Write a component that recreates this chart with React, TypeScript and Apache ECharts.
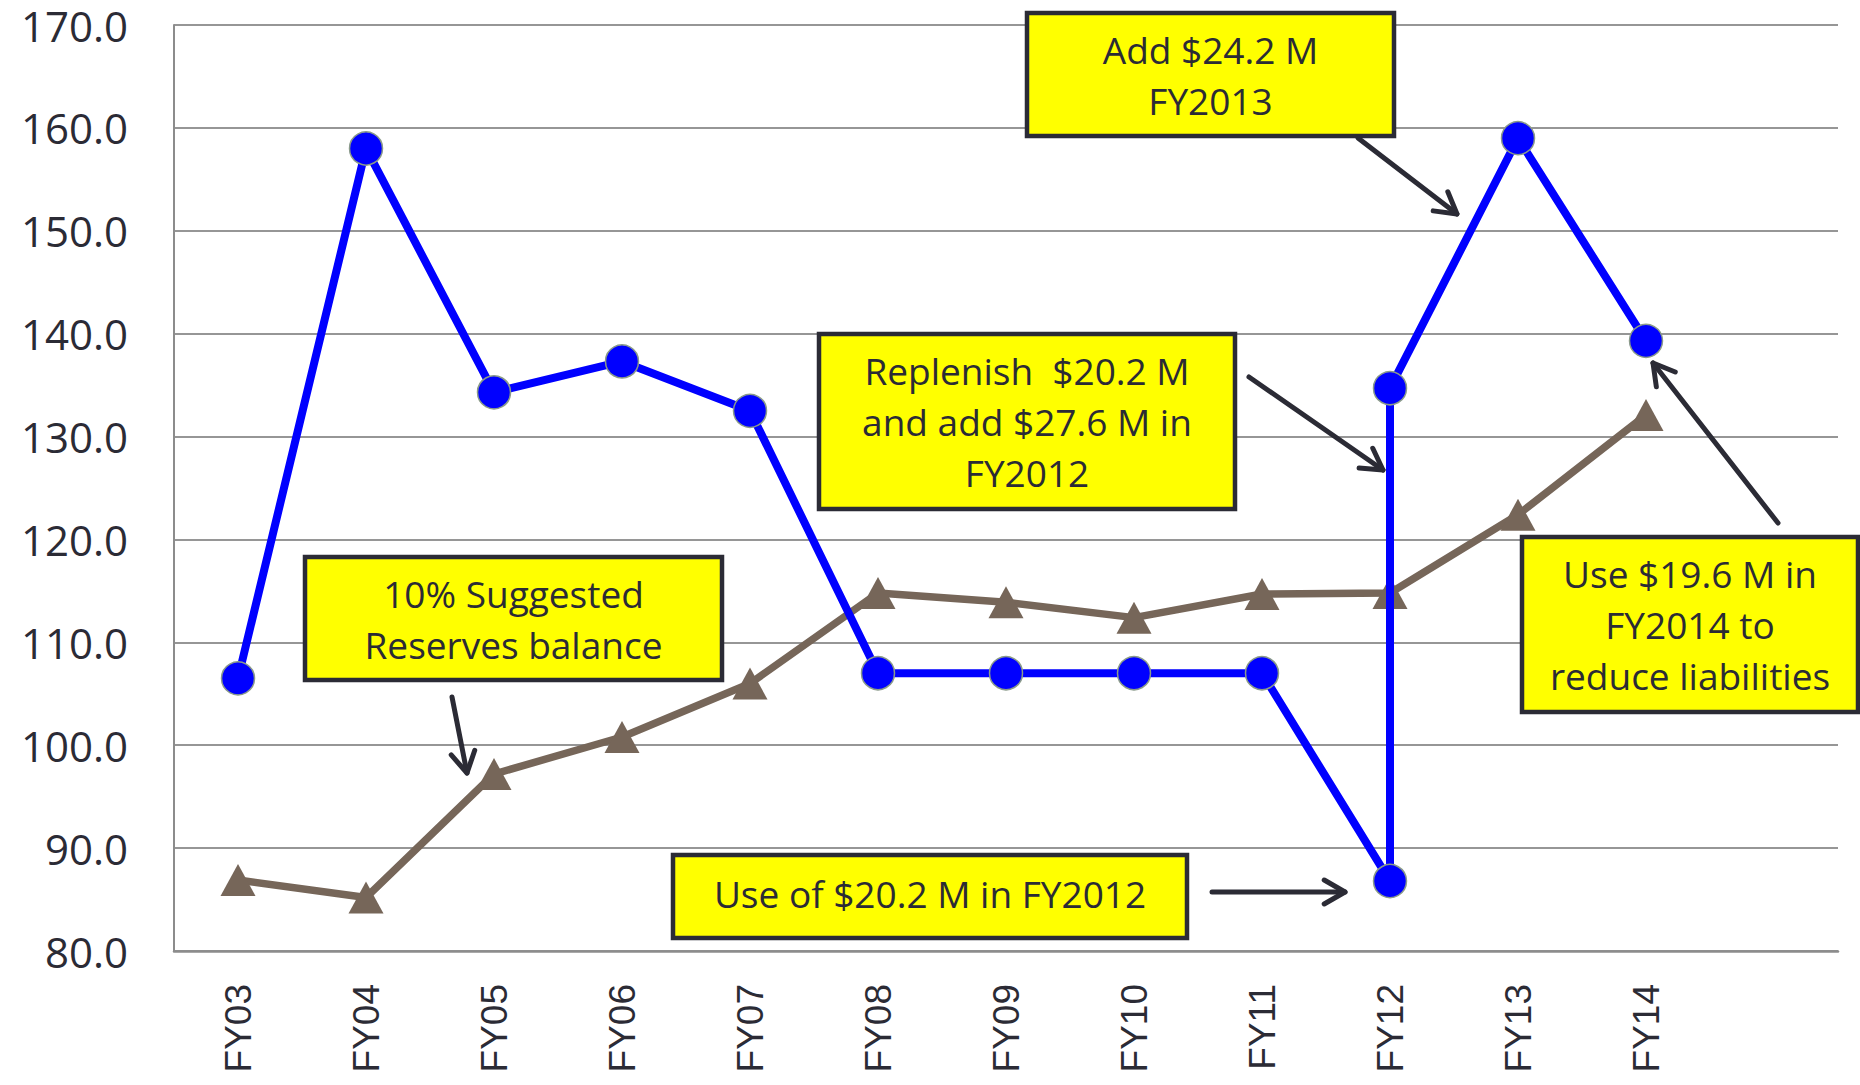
import React, { useEffect, useRef } from "react";
import * as echarts from "echarts";

const categories = ["FY03", "FY04", "FY05", "FY06", "FY07", "FY08", "FY09", "FY10", "FY11", "FY12", "FY13", "FY14", ""];
const reserveCats = ["FY03", "FY04", "FY05", "FY06", "FY07", "FY08", "FY09", "FY10", "FY11", "FY12", "FY12", "FY13", "FY14"];
const reserveValues = [106.5, 158.0, 134.3, 137.3, 132.5, 107.0, 107.0, 107.0, 107.0, 86.8, 134.7, 159.0, 139.3];
const suggestedCats = ["FY03", "FY04", "FY05", "FY06", "FY07", "FY08", "FY09", "FY10", "FY11", "FY12", "FY13", "FY14"];
const suggestedValues = [86.9, 85.2, 97.2, 100.8, 106.0, 114.8, 113.9, 112.4, 114.7, 114.8, 122.4, 132.1];
const yMin = 80;
const yMax = 170;
const yInterval = 10;

const boxTexts = [
  "Add $24.2 M\nFY2013",
  "Replenish  $20.2 M\nand add $27.6 M in\nFY2012",
  "10% Suggested\nReserves balance",
  "Use of $20.2 M in FY2012",
  "Use $19.6 M in\nFY2014 to\nreduce liabilities",
];

const INK = "#2b2b35";
const FONT = "'Open Sans', 'Noto Sans', sans-serif";

function box(x: number, y: number, w: number, h: number, text: string, ty?: number) {
  return [
    {
      type: "rect",
      z: 100,
      shape: { x, y, width: w, height: h },
      style: { fill: "#ffff00", stroke: INK, lineWidth: 4.5 },
    },
    {
      type: "text",
      z: 101,
      style: {
        text,
        x: x + w / 2,
        y: ty !== undefined ? ty : y + h / 2,
        textAlign: "center",
        textVerticalAlign: "middle",
        fontSize: 37,
        fontFamily: FONT,
        lineHeight: 51,
        fill: INK,
      },
    },
  ];
}

function arrow(x1: number, y1: number, x2: number, y2: number) {
  const ang = Math.atan2(y2 - y1, x2 - x1);
  const L = 24;
  const a = Math.PI / 6;
  const p1 = [x2 - L * Math.cos(ang - a), y2 - L * Math.sin(ang - a)];
  const p2 = [x2 - L * Math.cos(ang + a), y2 - L * Math.sin(ang + a)];
  return [
    {
      type: "line",
      z: 100,
      shape: { x1, y1, x2, y2 },
      style: { stroke: INK, lineWidth: 5, lineCap: "round" },
    },
    {
      type: "polyline",
      z: 100,
      shape: { points: [p1, [x2, y2], p2] },
      style: { stroke: INK, lineWidth: 5, lineCap: "round", lineJoin: "round", fill: "none" },
    },
  ];
}

export default function App() {
  const ref = useRef<HTMLDivElement>(null);
  useEffect(() => {
    document.body.style.margin = "0";
    const chart = echarts.init(ref.current!, null, { renderer: "svg" });
    const graphics = [
      ...box(1027, 13, 367, 123, boxTexts[0]),
      ...box(819, 334, 416, 175, boxTexts[1]),
      ...box(305, 557, 417, 123, boxTexts[2]),
      ...box(673, 855, 514, 83, boxTexts[3], 893),
      ...box(1522, 537, 336, 175, boxTexts[4]),
      ...arrow(1358, 138, 1457, 214),
      ...arrow(1249, 377, 1383, 470),
      ...arrow(1778, 523, 1653, 363),
      ...arrow(452, 697, 467, 773),
      ...arrow(1212, 892, 1345, 892),
    ];
    chart.setOption({
      animation: false,
      backgroundColor: "#ffffff",
      grid: { left: 174, right: 22, top: 25, bottom: 134, containLabel: false },
      xAxis: {
        type: "category",
        data: categories,
        boundaryGap: true,
        axisLine: { show: true, lineStyle: { color: "#8c8c8c", width: 2.5 } },
        axisTick: { show: false },
        axisLabel: {
          rotate: 90,
          margin: 33,
          fontSize: 37,
          fontFamily: "'Liberation Sans', Arial, sans-serif",
          color: INK,
          interval: 0,
        },
        splitLine: { show: false },
      },
      yAxis: {
        type: "value",
        min: yMin,
        max: yMax,
        interval: yInterval,
        axisLine: { show: true, lineStyle: { color: "#8c8c8c", width: 2 } },
        axisTick: { show: false },
        axisLabel: {
          margin: 46,
          fontSize: 42,
          lineHeight: 40,
          fontFamily: FONT,
          color: INK,
          formatter: (v: number) => v.toFixed(1),
        },
        splitLine: { show: true, lineStyle: { color: "#969696", width: 2 } },
      },
      series: [
        {
          type: "line",
          name: "10% Suggested Reserves",
          data: suggestedCats.map((c, i) => [c, suggestedValues[i]]),
          symbol: "triangle",
          symbolSize: [35, 32],
          lineStyle: { color: "#766659", width: 7.5 },
          itemStyle: { color: "#766659" },
          z: 2,
        },
        {
          type: "line",
          name: "Reserves",
          data: reserveCats.map((c, i) => [c, reserveValues[i]]),
          symbol: "circle",
          symbolSize: 33,
          lineStyle: { color: "#0000ff", width: 8 },
          itemStyle: { color: "#0000ff", borderColor: "#8a9a8a", borderWidth: 1.5 },
          z: 3,
        },
      ],
      graphic: graphics,
    });
    return () => chart.dispose();
  }, []);
  return <div ref={ref} style={{ width: 1860, height: 1085 }} />;
}
